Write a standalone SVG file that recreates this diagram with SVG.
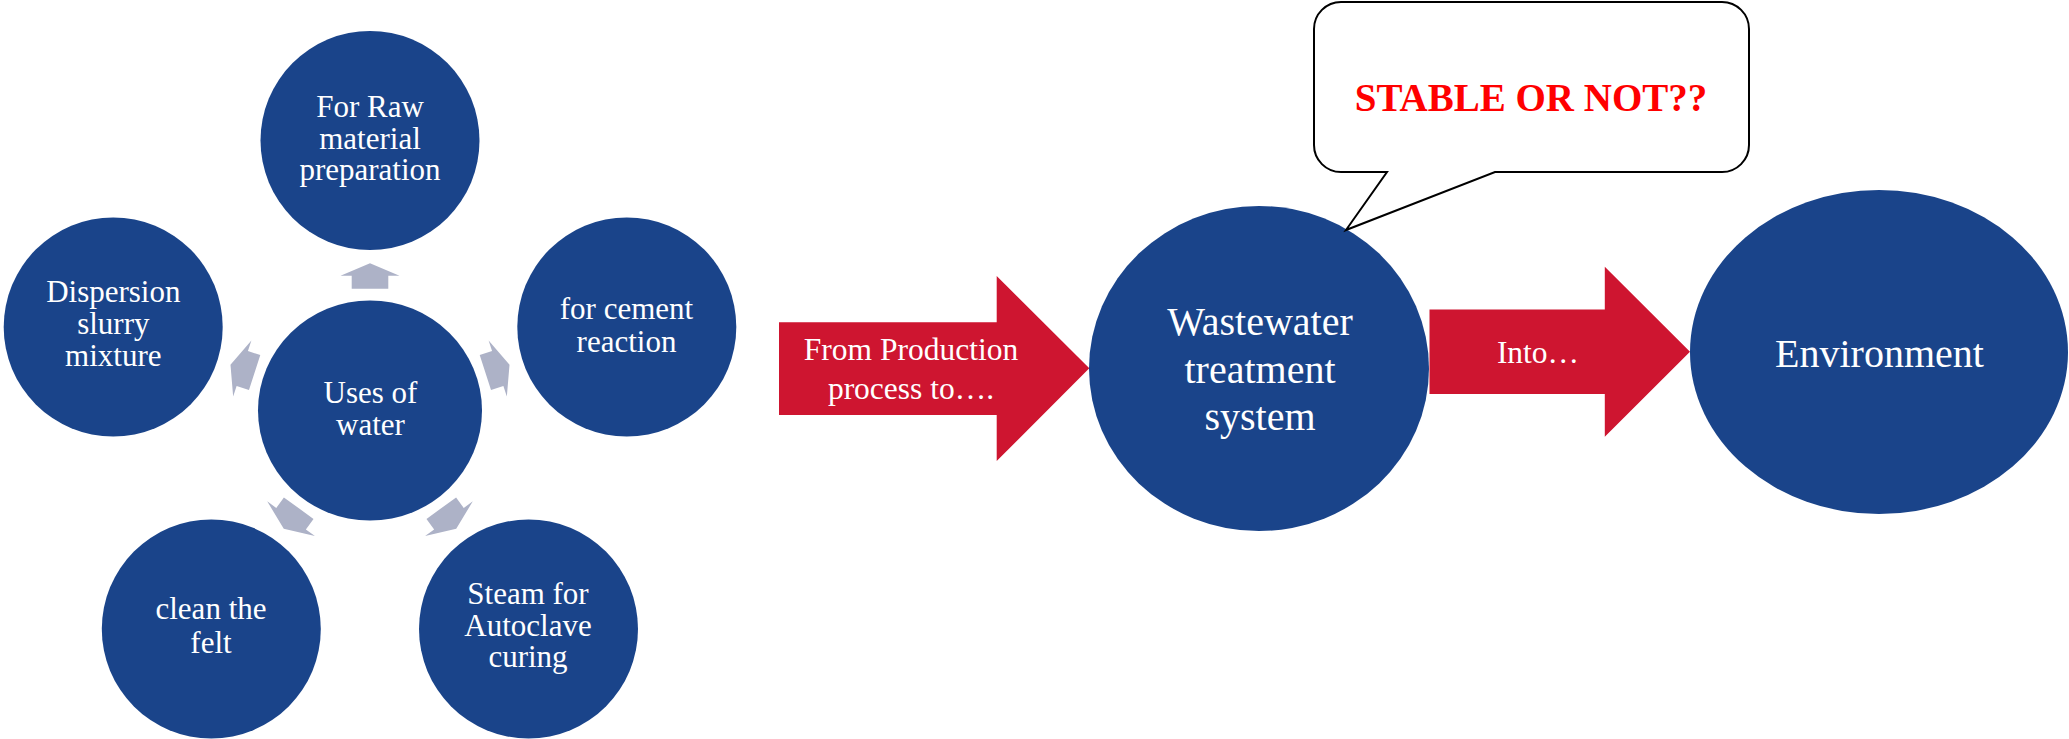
<svg xmlns="http://www.w3.org/2000/svg" xmlns:xlink="http://www.w3.org/1999/xlink" width="2069" height="739" viewBox="0 0 2069 739">
<style>
.node{fill:#1A448A}
.red{fill:#CE1530}
.t{font-family:"Liberation Serif","Times New Roman",serif;fill:#FFFFFF;text-anchor:middle}
.s31{font-size:31px}
.s32{font-size:31.5px}
.s40{font-size:40px}
.gray{fill:#ADB2C7}
.callout{fill:#FFFFFF;stroke:#000000;stroke-width:2;stroke-linejoin:miter}
.q{font-family:"Liberation Serif","Times New Roman",serif;font-weight:bold;font-size:39px;fill:#FF0000;text-anchor:middle}
</style>
<defs>
<polygon id="spoke" points="370,263.3 399.5,275.7 388.3,275.7 388.3,288.7 351.7,288.7 351.7,275.7 340.5,275.7"/>
</defs>
<rect width="2069" height="739" fill="#FFFFFF"/>
<g id="connectors">
<use xlink:href="#spoke" class="gray"/>
<use xlink:href="#spoke" class="gray" transform="rotate(72 370 410)"/>
<use xlink:href="#spoke" class="gray" transform="rotate(144 370 410)"/>
<use xlink:href="#spoke" class="gray" transform="rotate(216 370 410)"/>
<use xlink:href="#spoke" class="gray" transform="rotate(288 370 410)"/>
</g>
<g id="node-center">
<ellipse class="node" cx="370" cy="410.5" rx="112" ry="110"/>
<text class="t s31" x="370.5" y="402.5">Uses of</text>
<text class="t s31" x="370.5" y="434.5">water</text>
</g>
<g id="node-raw">
<circle class="node" cx="370" cy="140.5" r="109.5"/>
<text class="t s31" x="370" y="116.5">For Raw</text>
<text class="t s31" x="370" y="148.5">material</text>
<text class="t s31" x="370" y="180">preparation</text>
</g>
<g id="node-cement">
<circle class="node" cx="626.8" cy="327" r="109.5"/>
<text class="t s31" x="626.5" y="318.5">for cement</text>
<text class="t s31" x="626.5" y="351.5">reaction</text>
</g>
<g id="node-steam">
<circle class="node" cx="528.5" cy="629" r="109.5"/>
<text class="t s31" x="528" y="603.5">Steam for</text>
<text class="t s31" x="528" y="635.5">Autoclave</text>
<text class="t s31" x="528" y="667">curing</text>
</g>
<g id="node-felt">
<circle class="node" cx="211.3" cy="629" r="109.5"/>
<text class="t s31" x="211" y="619">clean the</text>
<text class="t s31" x="211" y="652.5">felt</text>
</g>
<g id="node-dispersion">
<circle class="node" cx="113.2" cy="327" r="109.5"/>
<text class="t s31" x="113.3" y="301.7">Dispersion</text>
<text class="t s31" x="113.3" y="333.5">slurry</text>
<text class="t s31" x="113.3" y="365.7">mixture</text>
</g>
<g id="arrow-from">
<polygon class="red" points="779,322.3 996.7,322.3 996.7,276 1089.3,368.3 996.7,461 996.7,415 779,415"/>
<text class="t s32" x="911" y="360">From Production</text>
<text class="t s32" x="911" y="398.7">process to….</text>
</g>
<g id="node-wastewater">
<ellipse class="node" cx="1259" cy="368.5" rx="170" ry="162.5"/>
<text class="t s40" x="1260" y="335">Wastewater</text>
<text class="t s40" x="1260" y="383">treatment</text>
<text class="t s40" x="1260" y="430">system</text>
</g>
<g id="callout">
<path class="callout" d="M1341,2 H1722 A27,27 0 0 1 1749,29 V145 A27,27 0 0 1 1722,172 H1495 L1346,230 L1387,172 H1341 A27,27 0 0 1 1314,145 V29 A27,27 0 0 1 1341,2 Z"/>
<text class="q" x="1531" y="111">STABLE OR NOT??</text>
</g>
<g id="arrow-into">
<polygon class="red" points="1429.5,309.5 1604.8,309.5 1604.8,266.7 1690,351.7 1604.8,436.7 1604.8,394 1429.5,394"/>
<text class="t s32" x="1538" y="362.7">Into…</text>
</g>
<g id="node-environment">
<ellipse class="node" cx="1879" cy="352" rx="189" ry="162"/>
<text class="t s40" x="1879.5" y="366.7">Environment</text>
</g>
</svg>
